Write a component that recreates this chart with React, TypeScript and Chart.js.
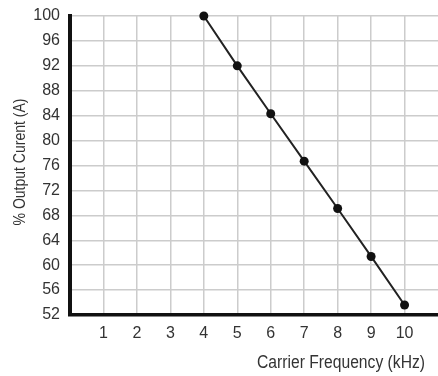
import React, { useEffect, useRef } from 'react';
import { Chart, registerables } from 'chart.js';

Chart.register(...registerables);

const frequencies = [4, 5, 6, 7, 8, 9, 10];
const outputCurrent = [100, 92.0, 84.3, 76.7, 69.1, 61.4, 53.6];
const xTickLabels = ['1', '2', '3', '4', '5', '6', '7', '8', '9', '10'];
const yTickStep = 4;
const yMin = 52;
const yMax = 100;
const xMin = 0;
const xMax = 11;
const xTitle = 'Carrier Frequency (kHz)';
const yTitle = '% Output Curent (A)';

const W = 438;
const H = 376;
const FONT = '"Liberation Sans", Arial, sans-serif';

const titlePlugin = {
  id: 'axisTitles',
  afterDraw(chart: any) {
    const { ctx, scales } = chart;
    ctx.save();
    ctx.fillStyle = '#333333';
    ctx.textAlign = 'center';
    ctx.textBaseline = 'middle';
    ctx.font = '17.5px ' + FONT;
    ctx.save();
    ctx.translate(341, 363);
    ctx.scale(0.895, 1);
    ctx.fillText(xTitle, 0, 0);
    ctx.restore();
    ctx.font = '16px ' + FONT;
    ctx.translate(21, 162);
    ctx.rotate(-Math.PI / 2);
    ctx.scale(0.875, 1);
    ctx.fillText(yTitle, 0, 0);
    ctx.restore();
  },
};

export default function App() {
  const ref = useRef<HTMLCanvasElement>(null);

  useEffect(() => {
    if (!ref.current) return;
    const chart = new Chart(ref.current, {
      type: 'line',
      data: {
        datasets: [
          {
            data: frequencies.map((f, i) => ({ x: f, y: outputCurrent[i] })),
            borderColor: '#222222',
            borderWidth: 2,
            pointRadius: 4.5,
            pointBackgroundColor: '#111111',
            pointBorderColor: '#111111',
            pointBorderWidth: 0,
            tension: 0,
            clip: false as any,
          },
        ],
      },
      options: {
        animation: false,
        responsive: false,
        devicePixelRatio: 1,
        layout: { autoPadding: false, padding: { top: 16, right: 0, bottom: 0, left: 0 } },
        plugins: {
          legend: { display: false },
          tooltip: { enabled: false },
        },
        scales: {
          x: {
            type: 'linear',
            min: xMin,
            max: xMax,
            afterFit: (s: any) => {
              s.height = 61;
              s.paddingLeft = 0;
              s.paddingRight = 0;
            },
            ticks: {
              stepSize: 1,
              autoSkip: false,
              maxRotation: 0,
              padding: 9,
              color: '#333333',
              font: { family: FONT, size: 16 },
              callback: (v: any) => {
                const label = String(v);
                return xTickLabels.includes(label) ? label : '';
              },
            },
            grid: {
              drawTicks: false,
              lineWidth: 1.5,
              color: (c: any) =>
                c.tick && (c.tick.value === xMin || c.tick.value === xMax) ? 'rgba(0,0,0,0)' : '#cccccc',
            },
            border: { display: true, color: '#111111', width: 3.5 },
          },
          y: {
            type: 'linear',
            min: yMin,
            max: yMax,
            afterFit: (s: any) => {
              s.width = 70;
              s.paddingTop = 0;
              s.paddingBottom = 0;
            },
            ticks: {
              stepSize: yTickStep,
              padding: 10,
              color: '#333333',
              font: { family: FONT, size: 16 },
            },
            grid: {
              drawTicks: false,
              lineWidth: 1.5,
              color: '#cccccc',
            },
            border: { display: true, color: '#111111', width: 4 },
          },
        },
      },
      plugins: [titlePlugin],
    });
    return () => chart.destroy();
  }, []);

  return (
    <canvas
      ref={ref}
      width={W}
      height={H}
      style={{ position: 'absolute', left: 0, top: 0, width: W, height: H, background: '#ffffff' }}
    />
  );
}
